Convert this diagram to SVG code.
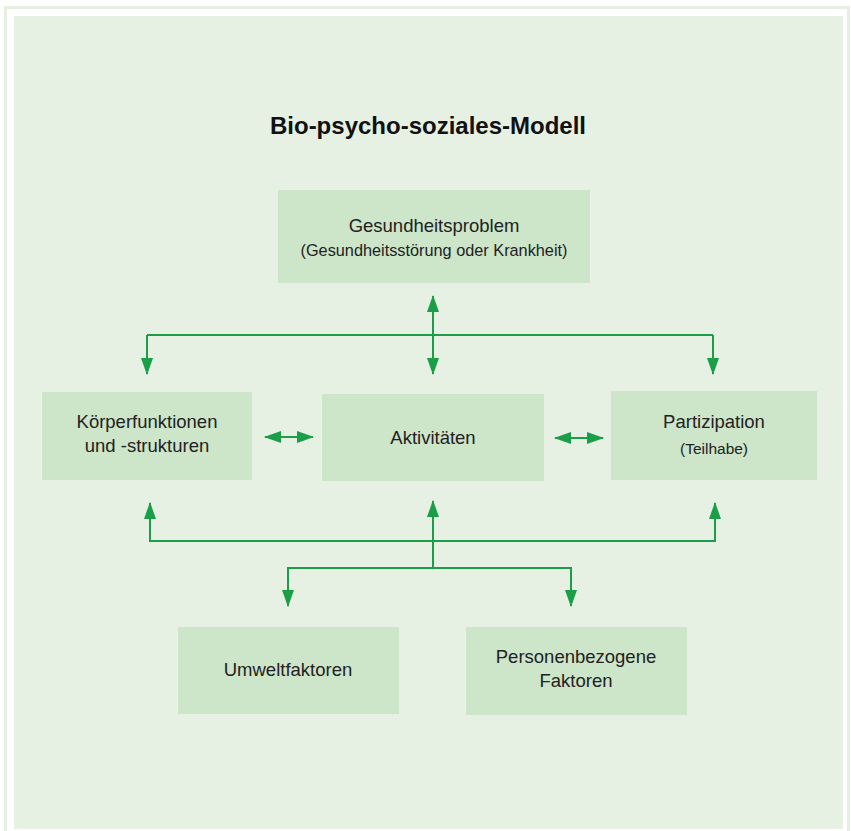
<svg xmlns="http://www.w3.org/2000/svg" width="851" height="831" viewBox="0 0 851 831">
<defs>
<style>
.box{fill:#cde5c9}
.t{font-family:"Liberation Sans",Arial,sans-serif;fill:#222;text-anchor:middle}
.m{font-size:18.5px}
.s{font-size:15.5px}
.ln{stroke:#1a9e48;stroke-width:2;fill:none}
</style>
<marker id="a" markerUnits="userSpaceOnUse" markerWidth="17" markerHeight="12" viewBox="0 0 17 12" refX="16" refY="6" orient="auto-start-reverse">
<path d="M0,0 L17,6 L0,12 Z" fill="#1a9e48"/>
</marker>
</defs>
<rect x="0" y="0" width="851" height="831" fill="#fff"/>
<rect x="5.5" y="7.5" width="843" height="830" fill="none" stroke="#e6f0e2" stroke-width="3"/>
<rect x="14" y="16" width="829" height="813" fill="#e6f0e3"/>
<text class="t" x="428" y="134" style="font-size:24px;font-weight:bold;fill:#111">Bio-psycho-soziales-Modell</text>
<g id="n-gesundheit">
<rect class="box" x="278" y="190" width="312" height="93"/>
<text class="t m" x="434" y="232">Gesundheitsproblem</text>
<text class="t s" x="434" y="256" style="font-size:16.3px">(Gesundheitsstörung oder Krankheit)</text>
</g>
<g id="n-koerper">
<rect class="box" x="42" y="392" width="210" height="88"/>
<text class="t m" x="147" y="428">Körperfunktionen</text>
<text class="t m" x="147" y="452">und -strukturen</text>
</g>
<g id="n-aktiv">
<rect class="box" x="322" y="394" width="222" height="87"/>
<text class="t m" x="433" y="444">Aktivitäten</text>
</g>
<g id="n-partizipation">
<rect class="box" x="611" y="391" width="206" height="89"/>
<text class="t m" x="714" y="428">Partizipation</text>
<text class="t s" x="714" y="454">(Teilhabe)</text>
</g>
<g id="n-umwelt">
<rect class="box" x="178" y="627" width="221" height="87"/>
<text class="t m" x="288" y="676">Umweltfaktoren</text>
</g>
<g id="n-person">
<rect class="box" x="466" y="627" width="221" height="88"/>
<text class="t m" x="576" y="663">Personenbezogene</text>
<text class="t m" x="576" y="687">Faktoren</text>
</g>
<g id="connectors">
<path class="ln" d="M147,335 H713"/>
<path class="ln" d="M433,296 V374" marker-start="url(#a)" marker-end="url(#a)"/>
<path class="ln" d="M147,335 V374" marker-end="url(#a)"/>
<path class="ln" d="M713,335 V374" marker-end="url(#a)"/>
<path class="ln" d="M265,437 H313" marker-start="url(#a)" marker-end="url(#a)"/>
<path class="ln" d="M555,438 H603" marker-start="url(#a)" marker-end="url(#a)"/>
<path class="ln" d="M150,503 V541 H715 V503" marker-start="url(#a)" marker-end="url(#a)"/>
<path class="ln" d="M433,568 V501" marker-end="url(#a)"/>
<path class="ln" d="M288,606 V568 H571 V606" marker-start="url(#a)" marker-end="url(#a)"/>
</g>
</svg>
